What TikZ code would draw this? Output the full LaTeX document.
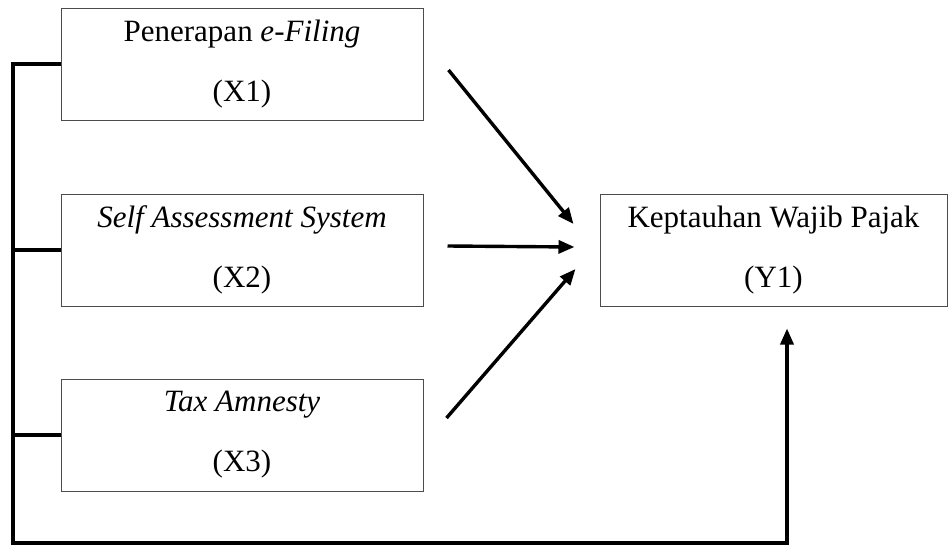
\documentclass[tikz,border=0pt]{standalone}
\usepackage{fontspec}
\setmainfont{Liberation Serif}
\usetikzlibrary{positioning,arrows.meta,calc}

\begin{document}
\begin{tikzpicture}[
  font=\fontsize{15.5pt}{30pt}\selectfont,
  >={Triangle[length=8pt,width=6.5pt]},
  varbox/.style={draw=black!70, line width=0.5pt, align=center, inner sep=0pt,
                 minimum width=181pt, minimum height=56pt},
  arr/.style={->, line width=1.7pt},
]
\useasboundingbox (0,0) rectangle (474pt,-273pt);

% ---------- independent variables ----------
\node[varbox] (x1) at (121pt,-32pt) {Penerapan \textit{e-Filing}\\(X1)};
\node[varbox, below=36.5pt of x1] (x2) {\textit{Self Assessment System}\\(X2)};
\node[varbox, below=36pt of x2] (x3) {\textit{Tax Amnesty}\\(X3)};

% ---------- dependent variable ----------
\node[varbox, minimum width=173.5pt, right=88pt of x2] (y1)
  {Keptauhan Wajib Pajak\\(Y1)};

% ---------- partial effects ----------
\coordinate (a1s) at ($(x1.east)+(12.5pt,-3pt)$);
\coordinate (a1e) at ($(y1.west)+(-13pt,13pt)$);
\coordinate (a2s) at ($(x2.east)+(12pt,2pt)$);
\coordinate (a2e) at ($(y1.west)+(-12.5pt,1.5pt)$);
\coordinate (a3s) at ($(x3.east)+(11.5pt,8.5pt)$);
\coordinate (a3e) at ($(y1.west)+(-12pt,-9.5pt)$);

\draw[arr] (a1s) -- (a1e);
\draw[arr] (a2s) -- (a2e);
\draw[arr] (a3s) -- (a3e);

% ---------- simultaneous effect (bracket) ----------
\coordinate (base) at (6.5pt,-271.5pt);
\coordinate (up) at ($(y1.south)+(6.75pt,-11pt)$);

\draw[arr] (x1.west) -| (base) -| (up);
\draw[line width=1.7pt] (x2.west) -- (x2.west -| base);
\draw[line width=1.7pt] (x3.west) -- (x3.west -| base);

\end{tikzpicture}
\end{document}
